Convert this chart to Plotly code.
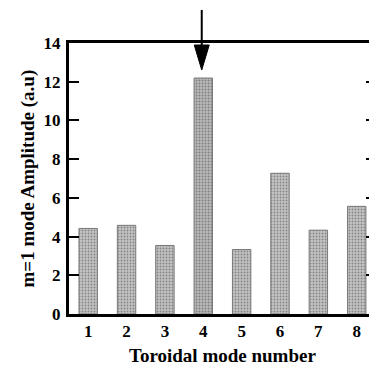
import plotly.graph_objects as go

modes = [1, 2, 3, 4, 5, 6, 7, 8]
amplitude = [4.42, 4.58, 3.54, 12.19, 3.33, 7.27, 4.33, 5.56]
y_ticks = [0, 2, 4, 6, 8, 10, 12, 14]
bar_colors = ["#c4c4c4", "#c4c4c4", "#c2c2c2", "#b8b8b8", "#c2c2c2", "#c4c4c4", "#c4c4c4", "#c4c4c4"]
highlight_mode = 4
x_title = "Toroidal mode number"
y_title = "m=1 mode Amplitude (a.u)"

font_family = "Liberation Serif, Times New Roman, serif"

fig = go.Figure()
fig.add_trace(go.Bar(
    x=modes, y=amplitude, width=0.48,
    marker=dict(color=bar_colors,
                line=dict(color="#777777", width=1),
                pattern=dict(shape=".", size=3, solidity=0.3, fgcolor="#a0a0a0", bgcolor="#d8d8d8")),
    showlegend=False,
))
fig.add_trace(go.Scatter(x=[None], y=[None], yaxis="y2", showlegend=False))

fig.update_layout(
    width=369, height=368,
    margin=dict(l=69, r=0, t=43, b=54, autoexpand=False),
    paper_bgcolor="white", plot_bgcolor="white",
    font=dict(family=font_family, color="black"),
    xaxis=dict(range=[0.5, 8.32], tickvals=modes, ticks="", showgrid=False, zeroline=False,
               showline=True, linecolor="black", linewidth=3, mirror=True, automargin=False,
               ticklabeloverflow="allow",
               tickfont=dict(size=17, family=font_family, weight="bold")),
    yaxis=dict(range=[0, 14], tickvals=y_ticks, ticks="inside", ticklen=10, tickwidth=2, tickcolor="black",
               showgrid=False, zeroline=False, showline=True, linecolor="black", linewidth=3,
               automargin=False, ticklabelstandoff=2,
               tickfont=dict(size=17, family=font_family, weight="bold")),
    yaxis2=dict(range=[0, 14], overlaying="y", side="right", tickvals=y_ticks[1:-1], ticks="inside",
                ticklen=3, tickwidth=2, tickcolor="black", showticklabels=False, showgrid=False,
                zeroline=False, showline=False, automargin=False),
    annotations=[
        dict(text=f"<b>{x_title}</b>", xref="paper", yref="paper", x=0.51, y=-0.152,
             xanchor="center", yanchor="middle", showarrow=False, font=dict(size=19)),
        dict(text=f"<b>{y_title}</b>", xref="paper", yref="paper", x=-0.14, y=0.5,
             xanchor="center", yanchor="middle", showarrow=False, textangle=-90, font=dict(size=19)),
    ],
)

# arrow pointing at the dominant mode
fig.add_shape(type="line", xref="x", yref="paper", x0=highlight_mode - 0.04, x1=highlight_mode - 0.04,
              y0=1.122, y1=0.96, line=dict(color="black", width=2))
fig.add_shape(type="path", xref="x", yref="paper",
              path=f"M {highlight_mode - 0.235},0.9926 L {highlight_mode + 0.155},0.9926 L {highlight_mode - 0.04},0.9004 Z",
              fillcolor="black", line=dict(color="black", width=1))

post = ("document.documentElement.style.margin='0';document.documentElement.style.padding='0';"
        "document.documentElement.style.overflow='hidden';"
        "document.body.style.margin='0';document.body.style.padding='0';document.body.style.overflow='hidden';")
fig.write_html("out.html", post_script=post, config={"responsive": False, "displayModeBar": False})
